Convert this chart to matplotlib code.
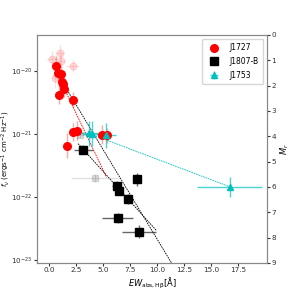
import numpy as np
import matplotlib
matplotlib.use("Agg")
import matplotlib.pyplot as plt

# J1727 (red circles): EW, log10 f_nu, errors
j1727_ew = [0.65, 0.86, 1.08, 1.18, 1.27, 1.39, 0.95, 2.25, 2.19, 2.56, 1.64, 4.88, 5.34]
j1727_logf = [-19.92, -20.04, -20.05, -20.17, -20.21, -20.29, -20.38, -20.46, -20.97, -20.95, -21.19, -21.01, -21.02]
j1727_ewerr = [0.25, 0.2, 0.2, 0.2, 0.2, 0.2, 0.25, 0.2, 0.3, 0.3, 0.2, 0.3, 0.3]
j1727_logerr = [0.15, 0.12, 0.12, 0.12, 0.12, 0.12, 0.15, 0.12, 0.15, 0.15, 0.2, 0.15, 0.12]

# J1727 excluded (faded)
j1727x_ew = [0.28, 0.99, 1.11, 2.22, 0.58]
j1727x_logf = [-19.81, -19.72, -19.85, -19.92, -20.12]
j1727x_ewerr = [0.5, 0.4, 0.4, 0.6, 0.3]
j1727x_logerr = [0.12, 0.15, 0.12, 0.1, 0.15]

# J1807-B (black squares)
j1807_ew = [3.2, 6.27, 6.51, 8.12, 7.35, 6.36, 8.33]
j1807_logf = [-21.25, -21.82, -21.90, -21.72, -22.04, -22.34, -22.55]
j1807_ewerr = [0.85, 0.4, 0.4, 0.3, 0.4, 1.45, 1.6]
j1807_logerr = [0.07, 0.07, 0.07, 0.1, 0.08, 0.08, 0.1]

# J1807-B excluded (faded)
j1807x_ew = [4.26, 2.87]
j1807x_logf = [-21.70, -21.02]
j1807x_ewerr = [2.2, 0.8]
j1807x_logerr = [0.06, 0.05]

# J1753 (cyan triangles)
j1753_ew = [3.67, 3.98, 5.31, 16.76]
j1753_logf = [-20.99, -21.00, -21.02, -21.84]
j1753_ewerr = [0.9, 0.9, 0.9, 3.0]
j1753_logerr = [0.2, 0.2, 0.2, 0.16]

# Fit lines: (slope, intercept in log10 f vs EW, x start, x end, color)
fit_slopes = [-0.36, -0.284, -0.19, -0.065]
fit_intercepts = [-19.767, -19.824, -20.642, -20.751]
fit_x0 = [0.65, 1.57, 2.7, 3.67]
fit_x1 = [5.34, 12.0, 9.97, 16.76]
fit_colors = ["red", "black", "black", "c"]

def yerrs(logf, logerr):
    logf = np.array(logf); logerr = np.array(logerr)
    f = 10**logf
    return f, np.vstack([f - 10**(logf - logerr), 10**(logf + logerr) - f])

fig = plt.figure(figsize=(2.97, 2.97), dpi=100)
ax = fig.add_axes([0.1246, 0.1145, 0.7744, 0.7677])
fs = 5.2

for s, b, x0, x1, c in zip(fit_slopes, fit_intercepts, fit_x0, fit_x1, fit_colors):
    xx = np.linspace(x0, x1, 50)
    ax.plot(xx, 10**(s*xx + b), ls=(0, (2, 1)), color=c, lw=0.6, zorder=1)

f, e = yerrs(j1727x_logf, j1727x_logerr)
ax.errorbar(j1727x_ew, f, xerr=j1727x_ewerr, yerr=e, fmt='o', color='red', ms=5, alpha=0.12, elinewidth=1, zorder=2)
f, e = yerrs(j1807x_logf, j1807x_logerr)
ax.errorbar(j1807x_ew, f, xerr=j1807x_ewerr, yerr=e, fmt='s', color='black', ms=5, alpha=0.12, elinewidth=1, zorder=2)

f, e = yerrs(j1727_logf, j1727_logerr)
ax.errorbar(j1727_ew, f, xerr=j1727_ewerr, yerr=e, fmt='o', color='red', ms=5.5, ecolor=(1, 0, 0, 0.35), elinewidth=1, label='J1727', zorder=3)
f, e = yerrs(j1807_logf, j1807_logerr)
ax.errorbar(j1807_ew, f, xerr=j1807_ewerr, yerr=e, fmt='s', color='black', ms=5.5, ecolor=(0, 0, 0, 0.6), elinewidth=1, label='J1807-B', zorder=3)
f, e = yerrs(j1753_logf, j1753_logerr)
ax.errorbar(j1753_ew, f, xerr=j1753_ewerr, yerr=e, fmt='^', color='c', ms=4.5, ecolor=(0, 0.75, 0.75, 0.7), elinewidth=1, label='J1753', zorder=3)

ax.set_yscale('log')
ax.set_xlim(-1.1, 20.2)
ax.set_ylim(10**-23.05, 10**-19.43)
ax.set_xticks([0, 2.5, 5, 7.5, 10, 12.5, 15, 17.5])
ax.minorticks_off()
ax.tick_params(labelsize=fs, length=2, pad=1.2, colors='#333333')
ax.set_xlabel(r'$EW_{\rm abs,H\beta}$[Å]', fontsize=6, labelpad=2)
ax.set_ylabel(r'$f_\nu$ (ergs$^{-1}$ cm$^{-2}$ Hz$^{-1}$)', fontsize=5.0)
ax.yaxis.set_label_coords(-0.108, 0.5)
ax.legend(loc='upper right', fontsize=5.5, framealpha=0.8, handletextpad=1.0, borderpad=0.6, labelspacing=0.6)

ax2 = ax.twinx()
ax2.set_ylim(9, 0)
ax2.set_yticks(range(10))
ax2.tick_params(labelsize=fs, length=2, pad=1.2, colors='#333333')
ax2.set_ylabel(r'$M_r$', fontsize=6, labelpad=2)

for a in (ax, ax2):
    for sp in a.spines.values():
        sp.set_color('#888888')

fig.savefig('out.png', dpi=100)
